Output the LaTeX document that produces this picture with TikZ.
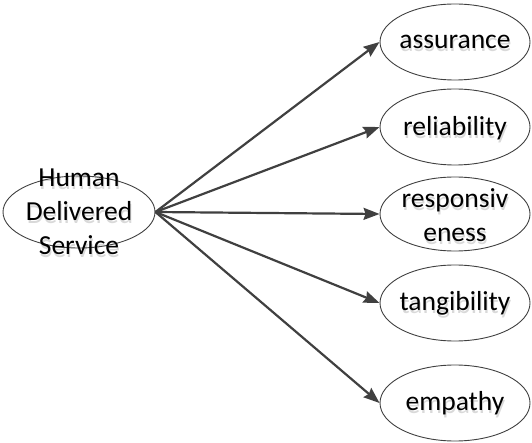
\documentclass[tikz,border=0pt]{standalone}
\usepackage{fontspec}
\setmainfont{Carlito}
\usetikzlibrary{shapes.geometric,arrows.meta}
\definecolor{ink}{HTML}{404040}
\tikzset{
  x=1pt,y=-1pt,
  ell/.style={ellipse,draw=ink,line width=0.9pt,inner sep=0pt,minimum width=150pt,minimum height=76pt},
  txt/.style={font=\fontsize{27.5}{34}\selectfont,align=center,inner sep=0pt,text=black},
  shd/.style={txt,text=black!15},
  arr/.style={draw=ink,line width=2.2pt,-{Stealth[length=16pt,width=12pt,inset=2pt]}}
}
\begin{document}
\begin{tikzpicture}
\useasboundingbox (0,0) rectangle (532,443);
% shadows first
\node[shd] (src-sh) at (80,215) {Human\\Delivered\\Service};
\node[shd] (a-sh) at (456,45) {assurance};
\node[shd] (r-sh) at (456,131) {reliability};
\node[shd] (p-sh) at (456,218) {responsiv\\eness};
\node[shd] (t-sh) at (456,306) {tangibility};
\node[shd] (e-sh) at (456,406) {empathy};
% ellipses
\node[ell,minimum width=152pt,minimum height=72pt] (src) at (79,212) {};
\node[ell] (a) at (455,42) {};
\node[ell] (r) at (455,127) {};
\node[ell,minimum height=74pt] (p) at (455,214) {};
\node[ell] (t) at (455,303) {};
\node[ell] (e) at (455,403) {};
% texts
\node[txt] (src-t) at (79,212) {Human\\Delivered\\Service};
\node[txt] (a-t) at (455,42) {assurance};
\node[txt] (r-t) at (455,128) {reliability};
\node[txt] (p-t) at (455,215) {responsiv\\eness};
\node[txt] (t-t) at (455,303) {tangibility};
\node[txt] (e-t) at (455,403) {empathy};
% connectors
\coordinate (s) at (src.east);
\draw[arr] (s) -- (a.west);
\draw[arr] (s) -- (r.west);
\draw[arr] (s) -- (p.west);
\draw[arr] (s) -- (t.west);
\draw[arr] (s) -- (e.west);
\end{tikzpicture}
\end{document}
